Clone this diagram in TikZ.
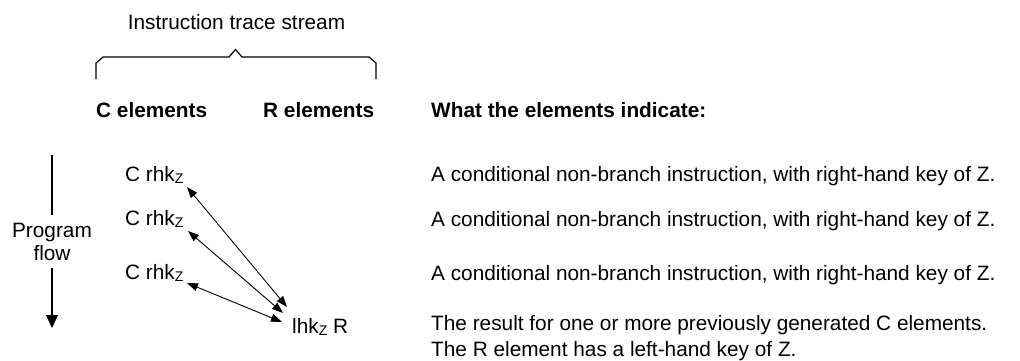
\documentclass[tikz,border=0pt]{standalone}
\usepackage{fontspec}
\setmainfont{Liberation Sans}
\usetikzlibrary{arrows.meta}
\newcommand{\subz}{\raisebox{-2.5pt}{\fontsize{14}{14}\selectfont Z}}
\tikzset{
  txt/.style={inner sep=0pt, anchor=base west, font=\fontsize{20.8}{25}\selectfont},
  ctxt/.style={inner sep=0pt, anchor=base, font=\fontsize{20.8}{25}\selectfont},
  btxt/.style={inner sep=0pt, anchor=base west, font=\fontsize{20.8}{25}\selectfont\bfseries},
  link/.style={line width=0.9pt, {Triangle[length=11pt,width=8pt]}-{Triangle[length=11pt,width=8pt]}},
  flowline/.style={line width=1.3pt},
  bracel/.style={line width=1.2pt, line join=miter}
}
\begin{document}
\begin{tikzpicture}[x=1pt,y=-1pt]
\useasboundingbox (0,0) rectangle (1020,360);
% title and brace
\node[ctxt] (title) at (236.5,29) {Instruction trace stream};
\coordinate (bl) at (96,79);
\coordinate (br) at (376,79);
\draw[bracel] (bl) -- (96,63) -- (103,57) -- (229,57) -- (235.5,49.5) -- (242,57) -- (369,57) -- (376,63) -- (br);
% column headers
\node[btxt] (ch) at (96,117) {C elements};
\node[btxt] (rh) at (263,117) {R elements};
\node[btxt] (wh) at (431,117) {What the elements indicate:};
% program flow
\node[ctxt] (prog) at (52,237) {Program};
\node[ctxt] (flow) at (52,260) {flow};
\coordinate (ftop) at (52,155);
\coordinate (fmid) at (52,215);
\coordinate (fbot) at (52,268);
\coordinate (ftip) at (52,328);
\draw[flowline] (ftop) -- (fmid);
\draw[flowline, -{Triangle[length=13pt,width=12pt]}] (fbot) -- (ftip);
% C elements
\node[txt] (c1) at (125,181) {C rhk\subz};
\node[txt] (c2) at (125,225) {C rhk\subz};
\node[txt] (c3) at (125,279) {C rhk\subz};
\node[txt] (r1) at (292,333) {lhk\subz{} R};
% arrows
\coordinate (a1) at (187,187);
\coordinate (b1) at (287,307);
\coordinate (a2) at (188,231);
\coordinate (b2) at (283,313);
\coordinate (a3) at (187,283);
\coordinate (b3) at (282,322);
\draw[link] (a1) -- (b1);
\draw[link] (a2) -- (b2);
\draw[link] (a3) -- (b3);
% descriptions
\node[txt] (d1) at (431,181) {A conditional non-branch instruction, with right-hand key of Z.};
\node[txt] (d2) at (431,226) {A conditional non-branch instruction, with right-hand key of Z.};
\node[txt] (d3) at (431,280) {A conditional non-branch instruction, with right-hand key of Z.};
\node[txt] (d4) at (431,330) {The result for one or more previously generated C elements.};
\node[txt] (d5) at (431,356) {The R element has a left-hand key of Z.};
\end{tikzpicture}
\end{document}
